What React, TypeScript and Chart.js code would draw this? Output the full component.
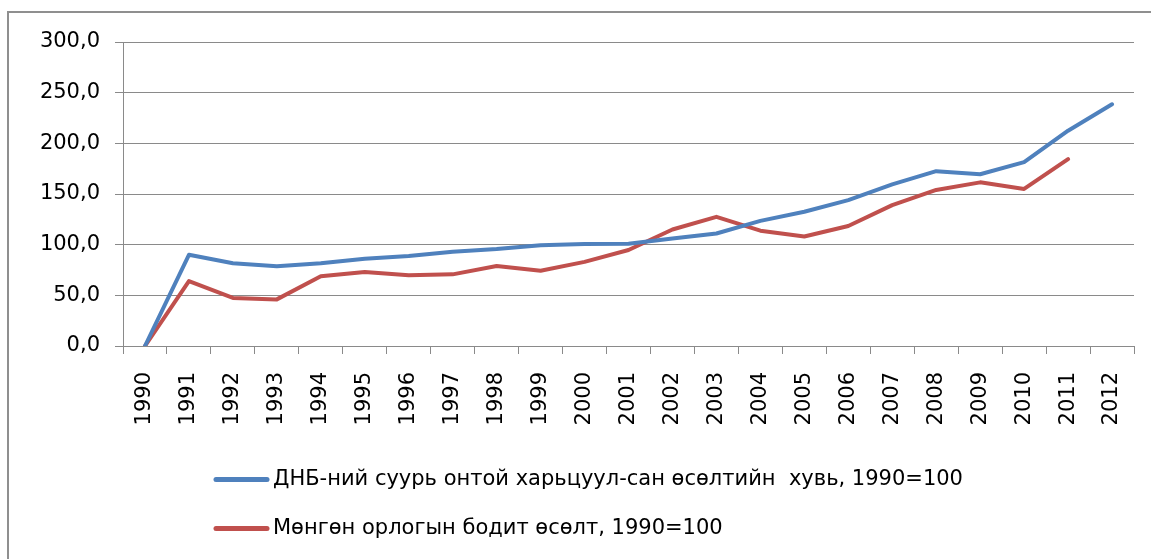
import React, { useEffect, useRef } from "react";
import { Chart, registerables } from "chart.js";

Chart.register(...registerables);

const years = ["1990","1991","1992","1993","1994","1995","1996","1997","1998","1999","2000","2001","2002","2003","2004","2005","2006","2007","2008","2009","2010","2011","2012"];
const gdpGrowth = [0, 90, 81.6, 78.6, 81.6, 86.2, 88.8, 93, 95.7, 99.5, 100.7, 101, 106, 111, 123.5, 132.5, 144, 159.5, 172.5, 169.5, 181.5, 212.5, 238.5];
const incomeGrowth = [0, 64, 47.4, 46, 68.8, 73, 69.8, 70.7, 79, 74.3, 83, 94.7, 115, 127.5, 113.8, 108, 118.4, 139, 154, 161.5, 155, 184.5, null];
const seriesLabels = ["ДНБ-ний суурь онтой харьцуул-сан өсөлтийн  хувь, 1990=100", "Мөнгөн орлогын бодит өсөлт, 1990=100"];
const yMin = 0;
const yMax = 300;
const yStep = 50;

const FONT = "DejaVu Sans";

const legendPlugin = {
  id: "stackedLegend",
  afterDraw(chart: any) {
    const ctx = chart.ctx;
    const rows = [479.5, 528.5];
    ctx.save();
    chart.data.datasets.forEach((ds: any, i: number) => {
      const y = rows[i];
      ctx.strokeStyle = ds.borderColor;
      ctx.lineWidth = 5;
      ctx.lineCap = "round";
      ctx.beginPath();
      ctx.moveTo(216, y);
      ctx.lineTo(267, y);
      ctx.stroke();
      ctx.fillStyle = "#000";
      ctx.font = `21px "${FONT}"`;
      ctx.textBaseline = "middle";
      ctx.textAlign = "left";
      ctx.fillText(ds.label, 273, y);
    });
    ctx.restore();
  },
};

export default function App() {
  const ref = useRef<HTMLCanvasElement>(null);
  useEffect(() => {
    if (!ref.current) return;
    const chart = new Chart(ref.current, {
      type: "line",
      data: {
        labels: years,
        datasets: [
          {
            label: seriesLabels[0],
            data: gdpGrowth,
            borderColor: "#4F81BD",
            backgroundColor: "#4F81BD",
            borderWidth: 4,
            pointRadius: 0,
            tension: 0,
            borderJoinStyle: "round",
            borderCapStyle: "round",
          },
          {
            label: seriesLabels[1],
            data: incomeGrowth,
            borderColor: "#C0504D",
            backgroundColor: "#C0504D",
            borderWidth: 4,
            pointRadius: 0,
            tension: 0,
            borderJoinStyle: "round",
            borderCapStyle: "round",
          },
        ],
      },
      options: {
        responsive: false,
        animation: false,
        devicePixelRatio: 1,
        layout: { padding: { left: 0, top: 42, right: 17, bottom: 133 } },
        plugins: {
          legend: { display: false },
          tooltip: { enabled: false },
        },
        font: { family: FONT },
        scales: {
          x: {
            offset: true,
            grid: {
              offset: true,
              drawOnChartArea: false,
              drawTicks: true,
              tickLength: 8,
              color: "#8a8a8a",
              lineWidth: 1,
            },
            border: { color: "#8a8a8a", width: 1 },
            ticks: {
              autoSkip: false,
              maxRotation: 90,
              minRotation: 90,
              padding: 18,
              color: "#000",
              font: { family: FONT, size: 21 },
            },
            afterFit(scale: any) {
              scale.height = 80;
              scale.paddingLeft = 0;
              scale.paddingRight = 0;
            },
          },
          y: {
            min: yMin,
            max: yMax,
            grid: {
              color: "#8a8a8a",
              lineWidth: 1,
              tickLength: 8,
            },
            border: { color: "#8a8a8a", width: 1 },
            ticks: {
              stepSize: yStep,
              padding: 15,
              color: "#000",
              font: { family: FONT, size: 21 },
              callback: (v: any) => Number(v).toFixed(1).replace(".", ","),
            },
            afterFit(scale: any) {
              scale.width = 123;
            },
          },
        },
      },
      plugins: [legendPlugin],
    });
    return () => chart.destroy();
  }, []);

  return (
    <div style={{ position: "fixed", left: 0, top: 0, width: 1151, height: 559, background: "#fff", overflow: "hidden" }}>
      <div
        style={{
          position: "absolute",
          left: 7,
          top: 11,
          right: 0,
          bottom: 0,
          borderLeft: "2px solid #8f8f8f",
          borderTop: "2px solid #8f8f8f",
        }}
      />
      <canvas ref={ref} width={1151} height={559} style={{ position: "absolute", left: 0, top: 0 }} />
    </div>
  );
}
